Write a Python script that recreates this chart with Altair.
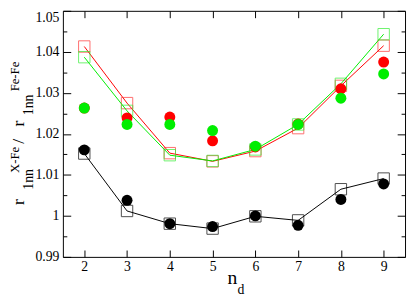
import altair as alt
import pandas as pd

nd = [2, 3, 4, 5, 6, 7, 8, 9]
red_sq = [1.0413, 1.0275, 1.0153, 1.0133, 1.0158, 1.0214, 1.0317, 1.0415]
green_sq = [1.0387, 1.0256, 1.0148, 1.0134, 1.0162, 1.0223, 1.0322, 1.0443]
black_sq = [1.0152, 1.0012, 0.9981, 0.9969, 0.9999, 0.9989, 1.0065, 1.0091]
red_ci = [1.0263, 1.0239, 1.0241, 1.0183, 1.0168, 1.0224, 1.0310, 1.0375]
green_ci = [1.0263, 1.0223, 1.0223, 1.0208, 1.0170, 1.0223, 1.0287, 1.0346]
black_ci = [1.0161, 1.0038, 0.9981, 0.9974, 1.0000, 0.9977, 1.0040, 1.0078]

x_ticks = [2, 3, 4, 5, 6, 7, 8, 9]
y_major = [0.99, 1.0, 1.01, 1.02, 1.03, 1.04, 1.05]
y_minor = [0.995, 1.005, 1.015, 1.025, 1.035, 1.045]

# y-title pieces: (text, size, x, y)
ytitle = [("r", 18, -40, 195), ("1nn", 14, -31, 172), ("X-Fe", 13, -45, 152),
          ("/", 18, -40, 133), ("r", 18, -40, 115), ("1nn", 14, -31, 96),
          ("Fe-Fe", 13, -45, 67)]
xtitle = [("n", 20, 168, 279), ("d", 14, 178, 289)]

W, H = 349, 251
FONT = "Liberation Serif"

def df(vals):
    return pd.DataFrame({"nd": nd, "v": vals})

xs = alt.Scale(domain=[1.5, 9.5], nice=False, zero=False)
ys = alt.Scale(domain=[0.99, 1.05], nice=False, zero=False)

def xenc(axis):
    return alt.X("nd:Q", scale=xs, axis=axis, title=None)

def yenc(axis):
    return alt.Y("v:Q", scale=ys, axis=axis, title=None)

ax_x_labels = alt.Axis(orient="bottom", values=x_ticks, ticks=False, tickSize=0, domain=False,
                       grid=False, labelFont=FONT, labelFontSize=14, labelColor="black",
                       labelPadding=3, format="d")
ax_y_labels = alt.Axis(orient="left", values=y_major, ticks=False, tickSize=0, domain=False,
                       grid=False, labelFont=FONT, labelFontSize=14, labelColor="black",
                       labelPadding=4, labelExpr="toString(round(datum.value*100)/100)",
                       labelBaseline={"condition": {"test": "datum.value > 1.049", "value": "top"},
                                      "value": "middle"})

def tick_axis(orient, values, size, offset):
    return alt.Axis(orient=orient, values=values, ticks=True, tickSize=size, labels=False,
                    domain=False, grid=False, tickColor="black", offset=offset)

layers = []
# black series
layers.append(alt.Chart(df(black_sq)).mark_line(color="black", strokeWidth=1).encode(
    x=xenc(ax_x_labels), y=yenc(ax_y_labels)))
layers.append(alt.Chart(df(black_sq)).mark_point(shape="square", filled=False, size=135,
                                                 color="black", strokeWidth=1).encode(
    x=xenc(tick_axis("top", x_ticks, 7, -H)), y=yenc(tick_axis("right", y_major, 8, -W))))
# red series
layers.append(alt.Chart(df(red_sq)).mark_line(color="#ff0000", strokeWidth=1).encode(
    x=xenc(tick_axis("bottom", x_ticks, 7, -H)), y=yenc(tick_axis("left", y_major, 8, -W))))
layers.append(alt.Chart(df(red_sq)).mark_point(shape="square", filled=False, size=135,
                                               color="#ff3030", strokeWidth=1).encode(
    x=xenc(None), y=yenc(tick_axis("right", y_minor, 4, -W))))
# green series
layers.append(alt.Chart(df(green_sq)).mark_line(color="#00ee00", strokeWidth=1).encode(
    x=xenc(None), y=yenc(tick_axis("left", y_minor, 4, -W))))
layers.append(alt.Chart(df(green_sq)).mark_point(shape="square", filled=False, size=135,
                                                 color="#30ee30", strokeWidth=1).encode(
    x=xenc(None), y=yenc(None)))
# circles
for vals, col in [(red_ci, "#ff0000"), (green_ci, "#00ee00"), (black_ci, "black")]:
    layers.append(alt.Chart(df(vals)).mark_circle(size=125, color=col, opacity=1).encode(
        x=xenc(None), y=yenc(None)))

for t, s, x, y in ytitle:
    layers.append(alt.Chart(alt.Data(values=[{}])).mark_text(
        text=t, font=FONT, fontSize=s, angle=270, align="center", baseline="alphabetic",
        color="black").encode(x=alt.value(x), y=alt.value(y)))
for t, s, x, y in xtitle:
    layers.append(alt.Chart(alt.Data(values=[{}])).mark_text(
        text=t, font=FONT, fontSize=s, align="left", baseline="alphabetic",
        color="black").encode(x=alt.value(x), y=alt.value(y)))

chart = alt.layer(*layers).resolve_axis(x="independent", y="independent").properties(
    width=W, height=H, autosize="none",
    padding={"left": 56, "top": 0, "right": 2, "bottom": 37},
    background="white",
).configure_view(stroke="black", strokeWidth=1)

chart.save("out.html", embed_options={"renderer": "svg", "actions": False})
